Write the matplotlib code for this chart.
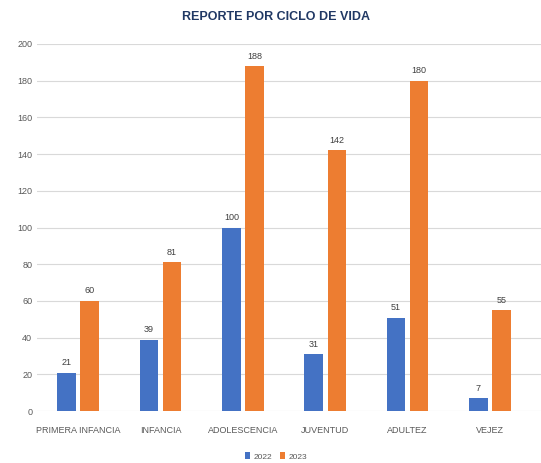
import numpy as np
import matplotlib.pyplot as plt

plt.rcParams['font.family'] = ['Liberation Sans Narrow', 'Liberation Sans', 'DejaVu Sans']

categorias = ['PRIMERA INFANCIA', 'INFANCIA', 'ADOLESCENCIA', 'JUVENTUD', 'ADULTEZ', 'VEJEZ']
v2022 = [21, 39, 100, 31, 51, 7]
v2023 = [60, 81, 188, 142, 180, 55]

fig = plt.figure(figsize=(5.41, 4.63), dpi=100)
ax = fig.add_axes([0.0684, 0.112, 0.9316, 0.793])

x = np.arange(len(categorias))
w = 0.225
b1 = ax.bar(x - 0.14, v2022, w, color='#4472C4', label='2022')
b2 = ax.bar(x + 0.14, v2023, w, color='#ED7D31', label='2023')

for bars in (b1, b2):
    for r in bars:
        ax.text(r.get_x() + r.get_width() / 2, r.get_height() + 3, str(int(r.get_height())),
                ha='center', va='bottom', fontsize=6.5, color='#404040')

ax.set_ylim(0, 200)
ax.set_xlim(-0.50, 5.62)
ax.set_yticks(range(0, 201, 20))
ax.set_xticks(x)
ax.set_xticklabels(categorias)
ax.tick_params(axis='both', length=0, labelsize=6.5, labelcolor='#595959')
ax.tick_params(axis='x', pad=11)
ax.yaxis.grid(True, color='#d9d9d9', linewidth=0.8)
ax.set_axisbelow(True)
for s in ax.spines.values():
    s.set_visible(False)

fig.text(0.51, 0.963, 'REPORTE POR CICLO DE VIDA', ha='center', va='center',
         fontsize=9, fontweight='bold', color='#203864')

ax.legend(loc='lower center', bbox_to_anchor=(0.474, -0.155), ncol=2, frameon=False,
          fontsize=6, handlelength=0.6, handleheight=0.8, columnspacing=1.0,
          handletextpad=0.4, labelcolor='#595959')

fig.savefig('out.png', dpi=100)
